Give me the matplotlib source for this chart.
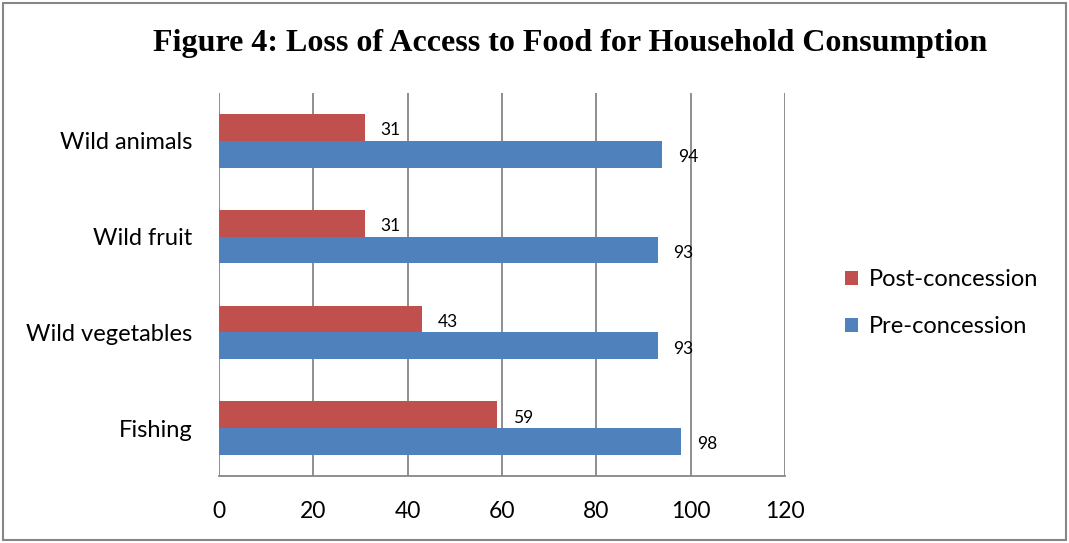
import matplotlib.pyplot as plt
from matplotlib.patches import Rectangle
import numpy as np

categories = ["Fishing", "Wild vegetables", "Wild fruit", "Wild animals"]
post_vals = [59, 43, 31, 31]
pre_vals = [98, 93, 93, 94]
x_ticks = [0, 20, 40, 60, 80, 100, 120]

RED = "#C0504D"
BLUE = "#4F81BD"
GRID = "#868686"

plt.rcParams["font.family"] = ["Lato", "DejaVu Sans"]

fig = plt.figure(figsize=(10.69, 5.43), dpi=100)
ax = fig.add_axes([219 / 1069, 67 / 543, 566 / 1069, 383 / 543])

y = np.arange(len(categories))
h = 0.28
ax.barh(y + h / 2, post_vals, height=h, color=RED, label="Post-concession", zorder=3)
ax.barh(y - h / 2, pre_vals, height=h, color=BLUE, label="Pre-concession", zorder=3)

# data labels sit a touch below bar centre, like Excel
dy = 0.03
for yi, v in zip(y, post_vals):
    ax.text(v + 3.3, yi + h / 2 - dy, str(v), va="center", ha="left", fontsize=12.5, zorder=4)
for yi, v in zip(y, pre_vals):
    ax.text(v + 3.3, yi - h / 2 - dy, str(v), va="center", ha="left", fontsize=12.5, zorder=4)

ax.set_xlim(0, 120)
ax.set_ylim(-0.5, 3.5)
ax.set_xticks(x_ticks)
ax.set_xticklabels([str(t) for t in x_ticks], fontsize=16.5)
ax.set_yticks(y)
ax.set_yticklabels(categories, fontsize=17)
ax.tick_params(axis="both", length=0)
ax.tick_params(axis="x", pad=18)
ax.tick_params(axis="y", pad=19)
ax.grid(axis="x", color=GRID, linewidth=1.3, zorder=0)
for side in ["top", "right", "left"]:
    ax.spines[side].set_visible(False)
ax.spines["bottom"].set_color(GRID)
ax.spines["bottom"].set_linewidth(1.3)

handles, labels = ax.get_legend_handles_labels()
fig.legend(handles, labels, loc="center left", bbox_to_anchor=(824 / 1069, 1 - 303 / 543),
           frameon=False, fontsize=17, handlelength=0.55, handleheight=0.55,
           handletextpad=0.45, labelspacing=1.1)

fig.text(570 / 1069, 1 - 43 / 543, "Figure 4: Loss of Access to Food for Household Consumption",
         ha="center", va="center", fontsize=23, fontweight="bold", family="Liberation Serif")

fig.patches.append(Rectangle((3 / 1069, 3 / 543), 1063 / 1069, 537 / 543, transform=fig.transFigure,
                             fill=False, edgecolor=GRID, linewidth=1.5))

fig.savefig("out.png", dpi=100)
